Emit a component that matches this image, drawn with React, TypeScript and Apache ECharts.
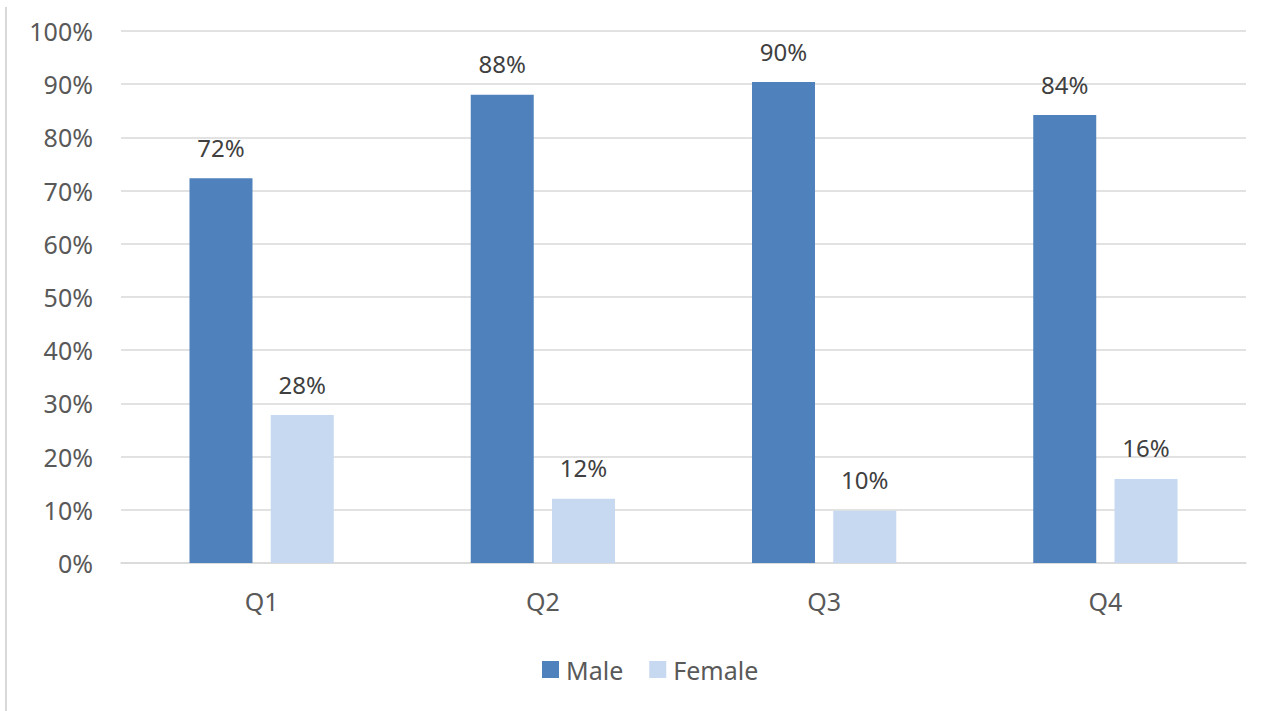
import React, { useEffect, useRef } from "react";
import * as echarts from "echarts";

const categories = ["Q1", "Q2", "Q3", "Q4"];
const maleValues = [72.3, 88.0, 90.4, 84.2];
const femaleValues = [27.8, 12.1, 9.8, 15.8];
const yTicks = [0, 10, 20, 30, 40, 50, 60, 70, 80, 90, 100];

const FONT = "'Noto Sans', 'Open Sans', sans-serif";

export default function App() {
  const ref = useRef<HTMLDivElement>(null);

  useEffect(() => {
    if (!ref.current) return;
    const chart = echarts.init(ref.current, undefined, { renderer: "svg" });
    const labelCfg = {
      show: true,
      position: "top",
      distance: 19,
      color: "#404040",
      fontSize: 24,
      fontFamily: FONT,
      formatter: (p: any) => Math.round(p.value) + "%",
    };
    chart.setOption({
      animation: false,
      backgroundColor: "#ffffff",
      textStyle: { fontFamily: FONT },
      grid: { left: 121, right: 34, top: 31, bottom: 148, containLabel: false },
      legend: {
        data: ["Male", "Female"],
        left: 537,
        top: 652,
        itemWidth: 17,
        itemHeight: 17,
        itemGap: 26,
        icon: "rect",
        textStyle: { color: "#595959", fontSize: 25, fontFamily: FONT, padding: [0, 0, 0, 2] },
      },
      xAxis: {
        type: "category",
        data: categories,
        axisLine: { show: true, lineStyle: { color: "#d9d9d9", width: 1.5 } },
        axisTick: { show: false },
        axisLabel: { color: "#595959", fontSize: 25, fontFamily: FONT, margin: 25 },
      },
      yAxis: {
        type: "value",
        min: yTicks[0],
        max: yTicks[yTicks.length - 1],
        interval: 10,
        axisLine: { show: false },
        axisTick: { show: false },
        splitLine: { lineStyle: { color: "#d9d9d9", width: 1.5 } },
        axisLabel: {
          color: "#595959",
          fontSize: 25,
          fontFamily: FONT,
          margin: 28,
          formatter: (v: number) => v + "%",
        },
      },
      series: [
        {
          name: "Male",
          type: "bar",
          data: maleValues,
          barWidth: 63,
          barGap: "29%",
          itemStyle: { color: "#4f81bd" },
          label: labelCfg,
        },
        {
          name: "Female",
          type: "bar",
          data: femaleValues,
          barWidth: 63,
          itemStyle: { color: "#c6d9f0" },
          label: labelCfg,
        },
      ],
      graphic: [
        {
          type: "line",
          shape: { x1: 6, y1: 7, x2: 6, y2: 711 },
          style: { stroke: "#d9d9d9", lineWidth: 2 },
        },
      ],
    });
    return () => chart.dispose();
  }, []);

  return (
    <div
      ref={ref}
      style={{ position: "fixed", left: 0, top: 0, width: 1280, height: 711 }}
    />
  );
}
